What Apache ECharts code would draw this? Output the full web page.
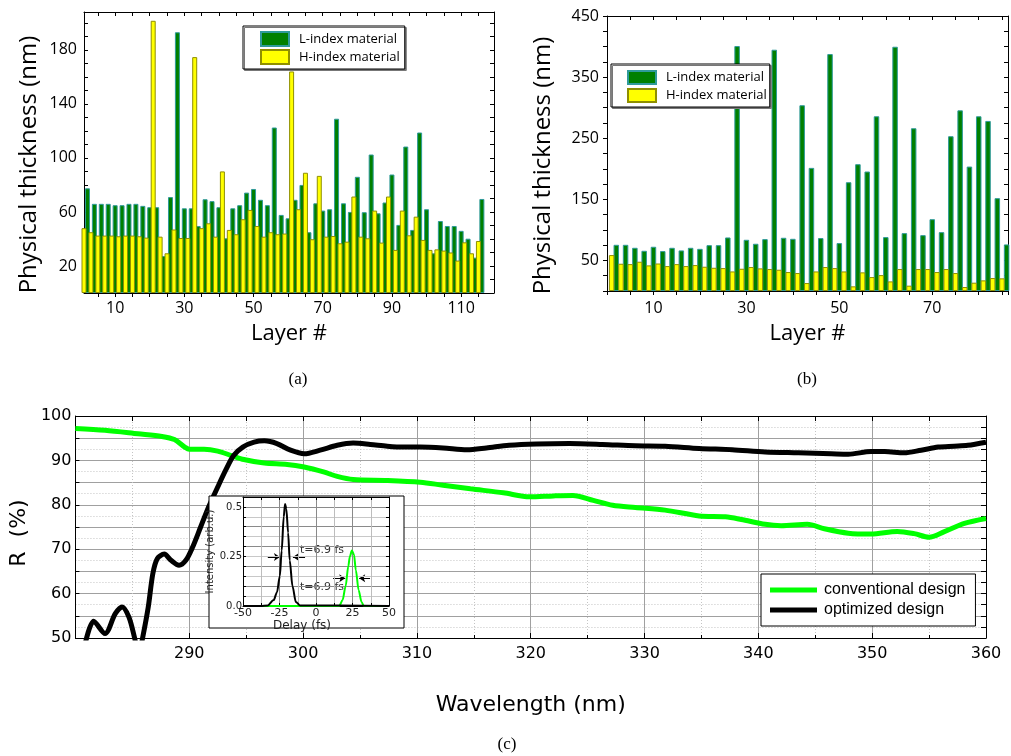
<!DOCTYPE html>
<html>
<head>
<meta charset="utf-8">
<script src="https://cdn.jsdelivr.net/npm/echarts@6/dist/echarts.min.js"></script>
<style>
  html, body { margin: 0; padding: 0; background: #fff; }
  #chart { width: 1011px; height: 756px; }
</style>
</head>
<body>
<div id="chart"></div>
<script>
// (a) 116 layers : H-index at odd layer numbers, L-index at even ones (nm)
const aH = [48, 45, 42.5, 42.5, 42.5, 42, 42.5, 42.5, 42, 41,
            201.5, 41.7, 29.4, 47, 40.7, 40.7, 174.6, 48, 51.6, 41.7,
            90, 46.7, 43.5, 54.6, 61.5, 49.6, 41.7, 45, 43.5, 44,
            164, 62, 89, 39.8, 86.7, 41.7, 42.2, 36.8, 38, 71.4,
            41.7, 40.5, 61, 37.3, 71.4, 31.9, 61, 42.7, 56.5, 39.3,
            31.9, 32.3, 31.4, 30, 24, 37.5, 29.4, 38.5];
const aL = [77.5, 66, 66, 66, 65, 65, 66, 66, 64.5, 63.5,
            63.5, 27.4, 71, 193, 62.7, 62.7, 49.6, 69.4, 68, 63.5,
            40.5, 62.7, 65, 74.3, 77, 69, 65, 122.5, 57.8, 55.3,
            69, 80, 45, 66.4, 61, 62, 129, 66.4, 60, 86,
            59.8, 102.5, 59, 67, 87.7, 50.4, 108.4, 46.7, 118.8, 62,
            29.4, 53.3, 49.6, 49.6, 46, 40.2, 26.2, 69.6];

// (b) 86 layers
const bH = [58.8, 44.6, 44, 47.9, 41.9, 45, 40.8, 44, 40.8, 42.4,
            39.7, 38, 37.5, 32, 36.4, 39.2, 37, 35.9, 34.8, 31,
            29.4, 13, 32, 39.2, 37.5, 32, 7.6, 30.5, 22.8, 26,
            15.7, 35.9, 8.7, 35.9, 35.9, 31, 35.9, 29.4, 6.5, 13.6,
            17.4, 21.2, 20.7];
const bL = [75.6, 75.6, 70.7, 65.8, 72.4, 65.3, 70.7, 66.4, 70.7, 69,
            75, 75, 87.6, 400.8, 83.8, 77.3, 84.9, 394.8, 87.1, 85.4,
            304, 201.5, 86.6, 387.7, 78.4, 178, 207.5, 195.5, 285.9, 88.2,
            399.7, 94.7, 266.3, 91.4, 117.5, 96.3, 253.3, 295.6, 203.6, 285.9,
            278.3, 151.9, 76.2];

// axis ticks / labels for (a)
const aXTicks = [5, 10, 15, 20, 25, 30, 35, 40, 45, 50, 55, 60, 65, 70, 75, 80, 85, 90, 95, 100, 105, 110, 115];
const aXLabels = [10, 30, 50, 70, 90, 110];

// (c) reflectance spectra
const convWl = [280, 282.6, 285.5, 287.6, 288.7, 289.6, 290, 291.3, 292.5, 293.7,
                294.8, 296.6, 298.6, 300.1, 301.8, 303, 304.4, 307.4, 310.3, 312.3,
                314.7, 317.6, 319.9, 322, 323.7, 325.5, 327.2, 329.2, 331.8, 334.8,
                337.1, 338.5, 340.6, 342, 344.3, 345.8, 347.9, 349.9, 352.2, 353.7,
                355, 356.3, 358.1, 360];
const convR = [97.2, 96.8, 96, 95.4, 94.7, 93, 92.5, 92.5, 92.1, 91.1,
               90.2, 89.4, 89.1, 88.5, 87.4, 86.4, 85.7, 85.5, 85.1, 84.4,
               83.6, 82.7, 81.8, 82, 82.1, 81, 79.9, 79.4, 78.8, 77.5,
               77.3, 76.7, 75.6, 75.3, 75.6, 74.6, 73.6, 73.4, 74, 73.5,
               72.7, 73.9, 75.8, 76.9];
const optWl = [280.8, 281.6, 282.6, 283.5, 284.1, 284.7, 285.2, 285.55, 285.9, 286.4,
               286.8, 287.2, 287.8, 288.4, 289.1, 289.7, 290.3, 291.0, 291.7, 292.5,
               293.2, 293.9, 294.7, 295.7, 296.6, 297.7, 298.9, 300.1, 301.5, 303,
               304.4, 305.9, 307.4, 308.8, 310.3, 312.3, 314.4, 316.1, 318.1, 320.5,
               323.4, 326.3, 329.2, 331.8, 334.8, 337.7, 340.6, 343.5, 346.4, 347.9,
               349.9, 351.1, 352.8, 354.3, 355.8, 357.2, 358.4, 360];
const optR = [48, 53.8, 51, 55.5, 57, 54.7, 50, 46, 50, 57,
              64.5, 67.9, 68.9, 67.5, 66.4, 67.5, 70.5, 75, 79.5, 84,
              87.8, 91.1, 93, 94.1, 94.4, 93.8, 92.3, 91.5, 92.3, 93.4,
              93.9, 93.6, 93.2, 93, 93, 92.8, 92.4, 92.8, 93.4, 93.7,
              93.8, 93.6, 93.3, 93.2, 92.7, 92.4, 91.9, 91.7, 91.5, 91.4,
              92, 92, 91.7, 92.3, 93, 93.2, 93.4, 94.1];

// inset : pulses
const blackDelay = [-50, -38, -33, -29, -26.7, -24.8, -23.5, -22.1, -21.2, -20.3, -19.1, -18, -16.1, -13.8, -11, 50];
const blackInt = [0, 0, 0.003, 0.03, 0.07, 0.15, 0.28, 0.45, 0.515, 0.49, 0.37, 0.23, 0.1, 0.02, 0.003, 0];
const greenDelay = [-50, 15.9, 18.2, 20.3, 22.1, 23.2, 24.6, 26, 27.3, 29.2, 31.2, 32.8, 50];
const greenInt = [0, 0, 0.03, 0.1, 0.2, 0.25, 0.28, 0.26, 0.18, 0.08, 0.02, 0, 0];

// inset annotations (arrow start/end, text anchor) in delay / intensity units
const arrows = [[[-33, 0.247], [-24.7, 0.247]], [[-7.5, 0.247], [-15.8, 0.247]],
                [[11.7, 0.14], [20, 0.14]], [[37, 0.14], [29.6, 0.14]]];
const fwhmText = [[-11, 0.28], [-11, 0.095]];

const pairs = (xs, ys) => xs.map((x, i) => [x, ys[i]]);
const oddLayers = arr => arr.map((v, i) => [2 * i + 1, v]);
const evenLayers = arr => arr.map((v, i) => [2 * i + 2, v]);

const chart = echarts.init(document.getElementById('chart'));

const OS = '"Open Sans"';
const DV = '"DejaVu Sans"';
const lineBlack = { show: true, onZero: false, lineStyle: { color: '#000', width: 1 } };
const noLabel = { show: false };
const noSplit = { show: false };

const greenBar = { color: '#008000', borderColor: '#2f9a9a', borderWidth: 1 };
const yellowBar = { color: '#ffff00', borderColor: '#8f8f00', borderWidth: 1 };

const option = {
  animation: false,
  textStyle: { color: '#000' },
  grid: [
    { left: 84, top: 12, width: 410, height: 281 },
    { left: 607, top: 16, width: 401, height: 275 },
    { left: 71, top: 416, width: 915, height: 222 },
    { left: 243, top: 497, width: 146, height: 109 }
  ],
  legend: [
    {
      data: ['L-index material', 'H-index material'],
      orient: 'vertical', left: 243, top: 26, icon: 'rect',
      itemWidth: 28, itemHeight: 14, itemGap: 2,
      padding: [5, 5, 4, 17],
      borderColor: '#000', borderWidth: 1, backgroundColor: '#fff',
      shadowColor: '#777', shadowOffsetX: 1.5, shadowOffsetY: 1.5,
      textStyle: { fontFamily: OS, fontSize: 13, color: '#000', padding: [0, 0, 0, 5] }
    },
    {
      data: ['L-index material', 'H-index material'],
      orient: 'vertical', left: 611, top: 64, icon: 'rect',
      itemWidth: 28, itemHeight: 13, itemGap: 3,
      padding: [6, 3, 4, 16],
      borderColor: '#000', borderWidth: 1, backgroundColor: '#fff',
      shadowColor: '#777', shadowOffsetX: 1.5, shadowOffsetY: 1.5,
      textStyle: { fontFamily: OS, fontSize: 13, color: '#000', padding: [0, 0, 0, 5] }
    },
    {
      data: ['conventional design', 'optimized design'],
      orient: 'vertical', left: 761, top: 574, icon: 'rect',
      itemWidth: 47, itemHeight: 5, itemGap: 4,
      padding: [8, 10, 8, 9],
      borderColor: '#000', borderWidth: 1, backgroundColor: '#fff',
      textStyle: { fontFamily: '"Liberation Sans"', fontSize: 16, color: '#000', padding: [0, 0, 0, 2] }
    }
  ],
  xAxis: [
    // (a)
    {
      type: 'value', gridIndex: 0, min: 1, max: 119.5, position: 'bottom',
      axisLine: lineBlack,
      axisTick: { show: true, inside: false, length: 4, customValues: aXTicks, lineStyle: { color: '#000' } },
      axisLabel: { customValues: aXLabels, fontFamily: OS, fontSize: 16, color: '#000', margin: 7 },
      splitLine: noSplit,
      name: 'Layer #', nameLocation: 'middle', nameGap: 30,
      nameTextStyle: { fontFamily: OS, fontSize: 22, color: '#000' }
    },
    {
      type: 'value', gridIndex: 0, min: 1, max: 119.5, position: 'top',
      axisLine: lineBlack,
      axisTick: { show: true, inside: true, length: 4, customValues: aXTicks, lineStyle: { color: '#000' } },
      axisLabel: noLabel, splitLine: noSplit
    },
    // (b)
    {
      type: 'value', gridIndex: 1, min: 0, max: 86.3, interval: 5, position: 'bottom',
      axisLine: lineBlack,
      axisTick: { show: true, inside: false, length: 4, lineStyle: { color: '#000' } },
      axisLabel: {
        fontFamily: OS, fontSize: 16, color: '#000', margin: 9,
        formatter: v => (v % 20 === 10 ? String(v) : '')
      },
      splitLine: noSplit,
      name: 'Layer #', nameLocation: 'middle', nameGap: 32,
      nameTextStyle: { fontFamily: OS, fontSize: 22, color: '#000' }
    },
    {
      type: 'value', gridIndex: 1, min: 0, max: 86.3, interval: 5, position: 'top',
      axisLine: lineBlack,
      axisTick: { show: true, inside: true, length: 4, lineStyle: { color: '#000' } },
      axisLabel: noLabel, splitLine: noSplit
    },
    // (c)
    {
      type: 'value', gridIndex: 2, min: 280, max: 360, interval: 10, position: 'bottom',
      axisLine: lineBlack,
      axisTick: { show: true, inside: true, length: 5, lineStyle: { color: '#000' } },
      minorTick: { show: true, splitNumber: 2, length: 3, lineStyle: { color: '#000' } },
      axisLabel: {
        fontFamily: DV, fontSize: 16, color: '#000', margin: 8,
        formatter: v => (v === 280 ? '' : String(v))
      },
      splitLine: { show: true, lineStyle: { color: '#a0a0a0', width: 1 } },
      minorSplitLine: { show: true, lineStyle: { color: '#c4c4c4', width: 1, type: [1, 2] } },
      name: 'Wavelength (nm)', nameLocation: 'middle', nameGap: 56,
      nameTextStyle: { fontFamily: DV, fontSize: 22, color: '#000' }
    },
    {
      type: 'value', gridIndex: 2, min: 280, max: 360, interval: 5, position: 'top',
      axisLine: lineBlack,
      axisTick: { show: true, inside: true, length: 5, lineStyle: { color: '#000' } },
      axisLabel: noLabel, splitLine: noSplit
    },
    // inset
    {
      type: 'value', gridIndex: 3, min: -50, max: 50, interval: 12.5, position: 'bottom', z: 10,
      axisLine: lineBlack,
      axisTick: { show: true, inside: true, length: 3, lineStyle: { color: '#000' } },
      axisLabel: {
        fontFamily: DV, fontSize: 11, color: '#222', margin: 2,
        formatter: v => (v % 25 === 0 ? String(v) : '')
      },
      splitLine: { show: true, lineStyle: { color: ['#8a8a8a', '#bdbdbd'], width: 1 } },
      name: 'Delay (fs)', nameLocation: 'middle', nameGap: 12,
      nameTextStyle: { fontFamily: DV, fontSize: 12, color: '#222', padding: [0, 28, 0, 0] }
    },
    {
      type: 'value', gridIndex: 3, min: -50, max: 50, interval: 12.5, position: 'top', z: 10,
      axisLine: lineBlack,
      axisTick: { show: true, inside: true, length: 3, lineStyle: { color: '#000' } },
      axisLabel: noLabel, splitLine: noSplit
    }
  ],
  yAxis: [
    // (a)
    {
      type: 'value', gridIndex: 0, min: 0, max: 208, interval: 10, position: 'left',
      axisLine: lineBlack,
      axisTick: { show: true, inside: true, length: 4, lineStyle: { color: '#000' } },
      axisLabel: {
        fontFamily: OS, fontSize: 16, color: '#000', margin: 7,
        formatter: v => (v % 40 === 20 ? String(v) : '')
      },
      splitLine: noSplit,
      name: 'Physical thickness (nm)', nameLocation: 'middle', nameGap: 43,
      nameTextStyle: { fontFamily: OS, fontSize: 24, color: '#000', padding: [0, 24, 0, 0] }
    },
    {
      type: 'value', gridIndex: 0, min: 0, max: 208, interval: 10, position: 'right',
      axisLine: lineBlack,
      axisTick: { show: true, inside: true, length: 4, lineStyle: { color: '#000' } },
      axisLabel: noLabel, splitLine: noSplit
    },
    // (b)
    {
      type: 'value', gridIndex: 1, min: 0, max: 450, interval: 25, position: 'left',
      axisLine: lineBlack,
      axisTick: { show: true, inside: false, length: 4, lineStyle: { color: '#000' } },
      axisLabel: {
        fontFamily: OS, fontSize: 16, color: '#000', margin: 8,
        formatter: v => (v % 100 === 50 ? String(v) : '')
      },
      splitLine: noSplit,
      name: 'Physical thickness (nm)', nameLocation: 'middle', nameGap: 52,
      nameTextStyle: { fontFamily: OS, fontSize: 24, color: '#000', padding: [0, 24, 0, 0] }
    },
    {
      type: 'value', gridIndex: 1, min: 0, max: 450, interval: 25, position: 'right',
      axisLine: lineBlack,
      axisTick: { show: true, inside: true, length: 4, lineStyle: { color: '#000' } },
      axisLabel: noLabel, splitLine: noSplit
    },
    // (c)
    {
      type: 'value', gridIndex: 2, min: 50, max: 100, interval: 5, position: 'left',
      axisLine: lineBlack,
      axisTick: { show: true, inside: true, length: 4, lineStyle: { color: '#000' } },
      minorTick: { show: false, splitNumber: 2 },
      axisLabel: {
        fontFamily: DV, fontSize: 16, color: '#000', margin: 4,
        formatter: v => (v % 10 === 0 ? String(v) : '')
      },
      splitLine: { show: true, lineStyle: { color: '#a0a0a0', width: 1 } },
      minorSplitLine: { show: true, lineStyle: { color: '#c4c4c4', width: 1, type: [1, 2] } },
      name: 'R  (%)', nameLocation: 'middle', nameGap: 33,
      nameTextStyle: { fontFamily: DV, fontSize: 22, color: '#000', padding: [0, 12, 0, 0] }
    },
    {
      type: 'value', gridIndex: 2, min: 50, max: 100, interval: 2.5, position: 'right',
      axisLine: lineBlack,
      axisTick: { show: true, inside: true, length: 5, lineStyle: { color: '#000' } },
      axisLabel: noLabel, splitLine: noSplit
    },
    // inset
    {
      type: 'value', gridIndex: 3, min: 0, max: 0.55, interval: 0.05, position: 'left', z: 10,
      axisLine: lineBlack,
      axisTick: { show: true, inside: true, length: 3, lineStyle: { color: '#000' } },
      axisLabel: {
        fontFamily: DV, fontSize: 10, color: '#222', margin: 1,
        formatter: v => {
          if (Math.abs(v) < 1e-9) return '0.0';
          if (Math.abs(v - 0.25) < 1e-6) return '0.25';
          if (Math.abs(v - 0.5) < 1e-6) return '0.5';
          return '';
        }
      },
      splitLine: { show: true, lineStyle: { color: ['#8a8a8a', '#c8c8c8'], width: 1 } },
      name: 'Intensity (arb.u.)', nameLocation: 'middle', nameGap: 25,
      nameTextStyle: { fontFamily: DV, fontSize: 10, color: '#222' }
    },
    {
      type: 'value', gridIndex: 3, min: 0, max: 0.55, interval: 0.05, position: 'right', z: 10,
      axisLine: lineBlack,
      axisTick: { show: true, inside: true, length: 3, lineStyle: { color: '#000' } },
      axisLabel: noLabel, splitLine: noSplit
    }
  ],
  graphic: [
    {
      type: 'rect', z: 5,
      shape: { x: 209, y: 496, width: 195, height: 132 },
      style: { fill: '#fff', stroke: '#000', lineWidth: 1 }
    },
    { type: 'text', x: 298, y: 380, style: { text: '(a)', font: '17px "Liberation Serif"', align: 'center', verticalAlign: 'middle', fill: '#000' } },
    { type: 'text', x: 807, y: 380, style: { text: '(b)', font: '17px "Liberation Serif"', align: 'center', verticalAlign: 'middle', fill: '#000' } },
    { type: 'text', x: 507, y: 745, style: { text: '(c)', font: '17px "Liberation Serif"', align: 'center', verticalAlign: 'middle', fill: '#000' } }
  ],
  series: [
    {
      name: 'L-index material', type: 'bar', xAxisIndex: 0, yAxisIndex: 0,
      barWidth: 5, barGap: '-100%', itemStyle: greenBar, data: evenLayers(aL)
    },
    {
      name: 'H-index material', type: 'bar', xAxisIndex: 0, yAxisIndex: 0,
      barWidth: 5, barGap: '-100%', itemStyle: yellowBar, data: oddLayers(aH)
    },
    {
      name: 'L-index material', type: 'bar', xAxisIndex: 2, yAxisIndex: 2,
      barWidth: 5.5, barGap: '-100%', itemStyle: greenBar, data: evenLayers(bL)
    },
    {
      name: 'H-index material', type: 'bar', xAxisIndex: 2, yAxisIndex: 2,
      barWidth: 5.5, barGap: '-100%', itemStyle: yellowBar, data: oddLayers(bH)
    },
    {
      name: 'conventional design', type: 'line', xAxisIndex: 4, yAxisIndex: 4,
      symbol: 'none', smooth: 0.3, clip: true,
      lineStyle: { color: '#00ff00', width: 5 }, itemStyle: { color: '#00ff00' },
      data: pairs(convWl, convR)
    },
    {
      name: 'optimized design', type: 'line', xAxisIndex: 4, yAxisIndex: 4,
      symbol: 'none', smooth: 0.3, clip: true,
      lineStyle: { color: '#000', width: 5 }, itemStyle: { color: '#000' },
      data: pairs(optWl, optR)
    },
    {
      name: 'inset green', type: 'line', xAxisIndex: 6, yAxisIndex: 6, z: 11,
      symbol: 'none', smooth: 0.3, smoothMonotone: 'x', clip: true,
      lineStyle: { color: '#00ff00', width: 2 },
      data: pairs(greenDelay, greenInt)
    },
    {
      name: 'inset black', type: 'line', xAxisIndex: 6, yAxisIndex: 6, z: 12,
      symbol: 'none', smooth: 0.3, smoothMonotone: 'x', clip: true,
      lineStyle: { color: '#000', width: 2 },
      data: pairs(blackDelay, blackInt),
      markLine: {
        silent: true, symbol: ['none', 'arrow'], symbolSize: 6,
        lineStyle: { color: '#000', width: 1, type: 'solid' },
        label: { show: false },
        data: arrows.map(a => [{ coord: a[0] }, { coord: a[1] }])
      },
      markPoint: {
        silent: true, symbol: 'circle', symbolSize: 0,
        label: {
          show: true, position: 'right', distance: 0, formatter: 't=6.9 fs',
          fontFamily: DV, fontSize: 11, color: '#333'
        },
        data: fwhmText.map(c => ({ coord: c }))
      }
    }
  ]
};

chart.setOption(option);
window.addEventListener('resize', () => chart.resize());
</script>
</body>
</html>
